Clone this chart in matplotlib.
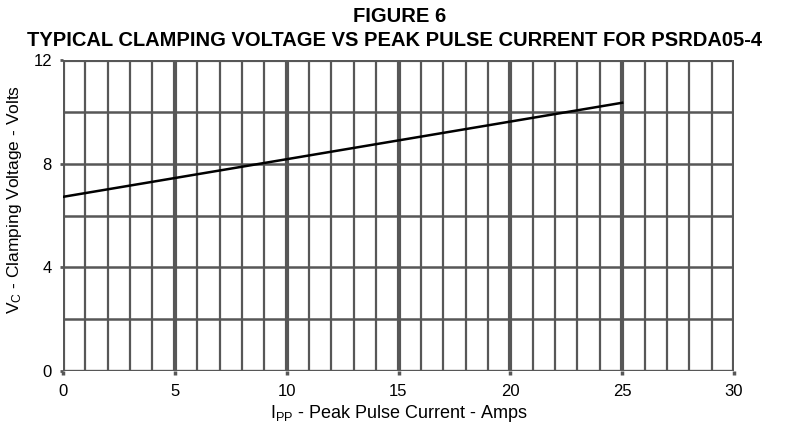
import matplotlib
matplotlib.use('Agg')
import matplotlib.pyplot as plt

# Data
current = [0, 25]           # I_PP, Amps
voltage = [6.72, 10.35]     # V_C, Volts

x_ticks = [0, 5, 10, 15, 20, 25, 30]
y_ticks = [0, 4, 8, 12]

plt.rcParams['font.family'] = ['Liberation Sans', 'DejaVu Sans']

fig = plt.figure(figsize=(7.92, 4.29), dpi=100)
ax = fig.add_axes([63 / 792, 1 - 371 / 429, 671 / 792, 311 / 429])

grid_col = '#575757'
# vertical grid: every 1 A, heavier every 5 A
for xv in range(0, 31):
    lw = 3.0 if xv % 5 == 0 else 1.6
    ax.axvline(xv, color=grid_col, lw=lw, zorder=1)
# horizontal grid: every 2 V
for yv in range(0, 13, 2):
    ax.axhline(yv, color=grid_col, lw=1.8, zorder=1)
ax.axhline(12, color=grid_col, lw=3.0, zorder=1)
ax.axhline(0, color=grid_col, lw=2.4, zorder=1)

ax.plot(current, voltage, color='black', lw=1.8, zorder=3)

ax.set_xlim(0, 30)
ax.set_ylim(0, 12)
ax.set_xticks(x_ticks)
ax.set_yticks(y_ticks)
ax.tick_params(axis='x', labelsize=12, length=3, width=2.5, color=grid_col, pad=6)
ax.tick_params(axis='y', labelsize=12, length=2, width=2, color=grid_col, pad=6)
for s in ax.spines.values():
    s.set_visible(False)

ax.set_xlabel(r'$\mathregular{I_{PP}}$ - Peak Pulse Current - Amps', fontsize=13, labelpad=3)
ax.set_ylabel(r'$\mathregular{V_C}$ - Clamping Voltage - Volts', fontsize=12.5, labelpad=6)
ax.yaxis.set_label_coords(-0.058, 0.55)

fig.text(0.505, 1 - 17 / 429, 'FIGURE 6', ha='center', va='center',
         fontsize=14.5, fontweight='bold')
fig.text(0.498, 1 - 40 / 429,
         'TYPICAL CLAMPING VOLTAGE VS PEAK PULSE CURRENT FOR PSRDA05-4',
         ha='center', va='center', fontsize=14.5, fontweight='bold')

fig.savefig('out.png', dpi=100)
